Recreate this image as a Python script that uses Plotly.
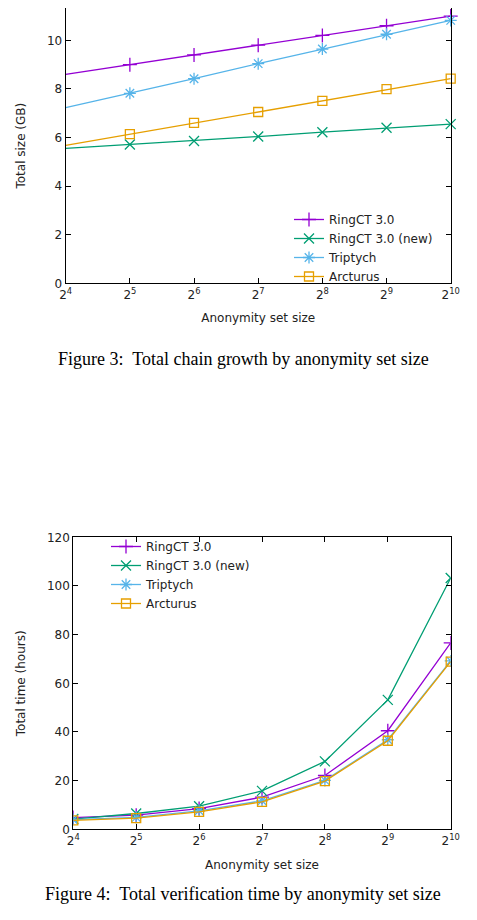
import plotly.graph_objects as go

# Data
set_sizes = [16, 32, 64, 128, 256, 512, 1024]
tick_labels = ["2<sup>%d</sup>" % n for n in range(4, 11)]

names = ["RingCT 3.0", "RingCT 3.0 (new)", "Triptych", "Arcturus"]
colors = ["#9400d3", "#009e73", "#56b4e9", "#e69f00"]
symbols = ["cross-thin", "x-thin", "asterisk", "square-open"]
marker_sizes = [10, 10, 10, 9]

# Figure 3: total chain growth (GB)
size_ringct3 = [8.6, 9.0, 9.4, 9.8, 10.2, 10.6, 11.0]
size_ringct3_new = [5.55, 5.71, 5.86, 6.04, 6.22, 6.40, 6.55]
size_triptych = [7.23, 7.82, 8.42, 9.04, 9.64, 10.25, 10.82]
size_arcturus = [5.68, 6.14, 6.60, 7.05, 7.51, 7.99, 8.42]

# Figure 4: total verification time (hours)
time_ringct3 = [4.8, 5.8, 8.5, 13.2, 22.1, 40.5, 76.6]
time_ringct3_new = [4.2, 6.5, 9.5, 15.8, 27.9, 53.2, 103.3]
time_triptych = [4.0, 4.9, 7.6, 11.7, 20.1, 36.8, 69.2]
time_arcturus = [3.7, 4.6, 7.2, 11.3, 19.8, 36.4, 68.9]

sizes = [size_ringct3, size_ringct3_new, size_triptych, size_arcturus]
times = [time_ringct3, time_ringct3_new, time_triptych, time_arcturus]

# page has an 8px body margin, so the figure is a bit smaller and shifted
OFF = 8
W, H = 477 - OFF, 920 - OFF
font = "DejaVu Sans"


def px(x):
    return (x - OFF) / W


def py(y):
    return 1 - (y - OFF) / H


fig = go.Figure()

for i, name in enumerate(names):
    fig.add_trace(go.Scatter(
        x=set_sizes, y=sizes[i], mode="lines+markers", name=name,
        line=dict(color=colors[i], width=1.3),
        marker=dict(symbol=symbols[i], size=marker_sizes[i], color=colors[i],
                    line=dict(color=colors[i], width=1.3)),
        xaxis="x", yaxis="y", legend="legend", cliponaxis=False,
    ))
for i, name in enumerate(names):
    fig.add_trace(go.Scatter(
        x=set_sizes, y=times[i], mode="lines+markers", name=name,
        line=dict(color=colors[i], width=1.3),
        marker=dict(symbol=symbols[i], size=marker_sizes[i], color=colors[i],
                    line=dict(color=colors[i], width=1.3)),
        xaxis="x2", yaxis="y2", legend="legend2",
    ))

axis_style = dict(
    showline=True, linecolor="black", linewidth=1.2,
    ticks="inside", ticklen=5, tickcolor="black",
    showgrid=False, zeroline=False, automargin=False,
    tickfont=dict(family=font, size=12, color="#222"),
)
xstyle = dict(axis_style, type="log", tickvals=set_sizes, ticktext=tick_labels,
              range=[4 * 0.30103, 10 * 0.30103])
title_font = dict(family=font, size=12, color="#222")

fig.update_layout(
    width=W, height=H,
    margin=dict(l=0, r=0, t=0, b=0),
    paper_bgcolor="white", plot_bgcolor="white",
    showlegend=True,
    xaxis=dict(xstyle, domain=[px(65.7), px(450.7)], anchor="y", mirror=False,
               title=dict(text="Anonymity set size", standoff=12, font=title_font)),
    yaxis=dict(axis_style, domain=[py(283.3), 1.0], anchor="x", mirror="ticks",
               range=[0, 11.66 - OFF / 24.3], tickvals=[0, 2, 4, 6, 8, 10],
               title=dict(text="Total size (GB)", standoff=18, font=title_font)),
    xaxis2=dict(xstyle, domain=[px(73.3), px(450.7)], anchor="y2", mirror="ticks",
                title=dict(text="Anonymity set size", standoff=13, font=title_font)),
    yaxis2=dict(axis_style, domain=[py(829.3), py(537.3)], anchor="x2",
                mirror="ticks", range=[0, 120], tickvals=[0, 20, 40, 60, 80, 100, 120],
                title=dict(text="Total time (hours)", standoff=18, font=title_font)),
    legend=dict(x=px(438), y=py(248), xanchor="right", yanchor="middle",
                bgcolor="rgba(0,0,0,0)", tracegroupgap=0,
                font=dict(family=font, size=12, color="#222")),
    legend2=dict(x=px(106), y=py(575), xanchor="left", yanchor="middle",
                 bgcolor="rgba(0,0,0,0)", tracegroupgap=0,
                 font=dict(family=font, size=12, color="#222")),
    annotations=[
        dict(text="Figure 3:  Total chain growth by anonymity set size",
             x=px(243), y=py(359), xref="paper", yref="paper",
             showarrow=False, font=dict(family="Liberation Serif", size=18, color="black")),
        dict(text="Figure 4:  Total verification time by anonymity set size",
             x=px(243), y=py(906), xref="paper", yref="paper",
             showarrow=False, font=dict(family="Liberation Serif", size=18, color="black")),
    ],
)

fig.write_html("out.html")
